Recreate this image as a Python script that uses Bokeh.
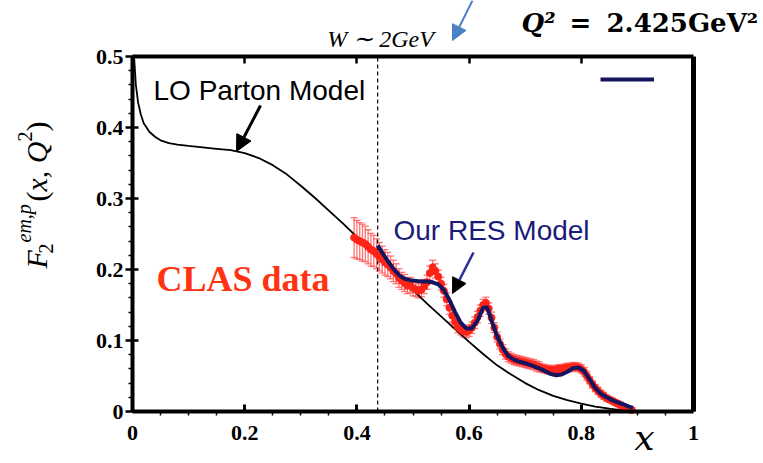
import math
from bokeh.plotting import figure
from bokeh.models import (ColumnDataSource, Whisker, TeeHead, Label, Arrow, NormalHead,
                          FixedTicker, LinearAxis, CustomJSTickFormatter, Legend, LegendItem,
                          Range1d)
from bokeh.embed import file_html
from bokeh.resources import INLINE

# ---------------- data ----------------
LO_X = [0.003, 0.006, 0.01, 0.015, 0.02, 0.03, 0.04, 0.05, 0.065, 0.08, 0.1, 0.125, 0.15,
        0.175, 0.2, 0.225, 0.25, 0.275, 0.3, 0.325, 0.35, 0.375, 0.4, 0.425, 0.45, 0.475, 0.5,
        0.525, 0.55, 0.575, 0.6, 0.625, 0.65, 0.675, 0.7, 0.725, 0.75, 0.775, 0.8, 0.825, 0.85,
        0.87, 0.89]
LO_Y = [0.497, 0.46, 0.435, 0.418, 0.406, 0.394, 0.387, 0.382, 0.378, 0.376, 0.374, 0.372,
        0.370, 0.368, 0.364, 0.357, 0.347, 0.334, 0.318, 0.301, 0.283, 0.265, 0.246, 0.228,
        0.209, 0.19, 0.171, 0.152, 0.134, 0.116, 0.098, 0.081, 0.065, 0.052, 0.04, 0.03, 0.022,
        0.016, 0.011, 0.007, 0.004, 0.002, 0.0]

RES_X = [0.437, 0.445, 0.455, 0.465, 0.475, 0.485, 0.495, 0.505, 0.515, 0.525, 0.535, 0.545,
         0.555, 0.565, 0.575, 0.585, 0.595, 0.605, 0.615, 0.625, 0.632, 0.64, 0.65, 0.66, 0.67,
         0.68, 0.69, 0.70, 0.715, 0.73, 0.745, 0.755, 0.765, 0.775, 0.785, 0.795, 0.805, 0.815,
         0.825, 0.835, 0.845, 0.855, 0.865, 0.875, 0.885, 0.892]
RES_Y = [0.234, 0.224, 0.212, 0.201, 0.192, 0.187, 0.185, 0.184, 0.183, 0.183, 0.182, 0.179,
         0.171, 0.157, 0.14, 0.125, 0.117, 0.117, 0.128, 0.146, 0.147, 0.128, 0.106, 0.09, 0.078,
         0.073, 0.07, 0.068, 0.064, 0.059, 0.053, 0.051, 0.052, 0.056, 0.061, 0.062, 0.057, 0.045,
         0.033, 0.025, 0.02, 0.016, 0.013, 0.01, 0.007, 0.005]

CLAS_X = [0.395, 0.400, 0.405, 0.410, 0.415, 0.420, 0.425, 0.430, 0.435, 0.440, 0.445, 0.450,
          0.455, 0.460, 0.465, 0.470, 0.475, 0.480, 0.485, 0.490, 0.495, 0.500, 0.505, 0.510,
          0.515, 0.520, 0.525, 0.530, 0.535, 0.540, 0.545, 0.550, 0.555, 0.560, 0.565, 0.570,
          0.575, 0.580, 0.585, 0.590, 0.595, 0.600, 0.605, 0.610, 0.615, 0.620, 0.625, 0.630,
          0.635, 0.640, 0.645, 0.650, 0.655, 0.660, 0.665, 0.670, 0.675, 0.680, 0.685, 0.690,
          0.695, 0.700, 0.705, 0.710, 0.715, 0.720, 0.725, 0.730, 0.735, 0.740, 0.745, 0.750,
          0.755, 0.760, 0.765, 0.770, 0.775, 0.780, 0.785, 0.790, 0.795, 0.800, 0.805, 0.810,
          0.815, 0.820, 0.825, 0.830, 0.835, 0.840, 0.845, 0.850, 0.855, 0.860, 0.865, 0.870,
          0.875, 0.880, 0.885, 0.890]
CLAS_Y = [0.245, 0.242, 0.240, 0.238, 0.236, 0.232, 0.228, 0.226, 0.222, 0.218, 0.214, 0.210,
          0.207, 0.203, 0.198, 0.194, 0.188, 0.184, 0.181, 0.177, 0.178, 0.174, 0.172, 0.170,
          0.172, 0.176, 0.182, 0.195, 0.203, 0.198, 0.190, 0.180, 0.170, 0.158, 0.146, 0.135,
          0.126, 0.119, 0.116, 0.113, 0.112, 0.114, 0.118, 0.125, 0.133, 0.142, 0.150, 0.153,
          0.145, 0.132, 0.118, 0.105, 0.095, 0.087, 0.081, 0.077, 0.075, 0.073, 0.072, 0.071,
          0.070, 0.069, 0.068, 0.067, 0.066, 0.064, 0.063, 0.061, 0.060, 0.059, 0.059, 0.058,
          0.059, 0.060, 0.060, 0.061, 0.062, 0.062, 0.063, 0.063, 0.062, 0.060, 0.056, 0.050,
          0.044, 0.038, 0.033, 0.029, 0.025, 0.022, 0.019, 0.017, 0.015, 0.013, 0.011, 0.009,
          0.007, 0.005, 0.003, 0.002]
CLAS_ERR = [0.028, 0.027, 0.026, 0.026, 0.025, 0.024, 0.023, 0.022, 0.021, 0.020, 0.019, 0.018,
            0.017, 0.016, 0.015, 0.014, 0.013, 0.012, 0.012, 0.011, 0.011, 0.011, 0.010, 0.010,
            0.010, 0.010, 0.010, 0.010, 0.010, 0.010, 0.009, 0.009, 0.009, 0.009, 0.009, 0.009,
            0.008, 0.008, 0.008, 0.008, 0.008, 0.008, 0.008, 0.008, 0.008, 0.008, 0.008, 0.008,
            0.008, 0.008, 0.007, 0.007, 0.007, 0.007, 0.007, 0.007, 0.007, 0.007, 0.007, 0.007,
            0.007, 0.007, 0.007, 0.007, 0.007, 0.007, 0.007, 0.006, 0.006, 0.006, 0.006, 0.006,
            0.006, 0.006, 0.006, 0.006, 0.006, 0.006, 0.006, 0.006, 0.006, 0.006, 0.006, 0.006,
            0.005, 0.005, 0.005, 0.005, 0.005, 0.005, 0.004, 0.004, 0.004, 0.004, 0.004, 0.004,
            0.003, 0.003, 0.003, 0.003]

W_LINE_X = [0.437, 0.437]
W_LINE_Y = [0.0, 0.5]

X_TICKS = [0.0, 0.2, 0.4, 0.6, 0.8, 1.0]
X_MINOR = [0.05, 0.1, 0.15, 0.25, 0.3, 0.35, 0.45, 0.5, 0.55, 0.65, 0.7, 0.75, 0.85, 0.9, 0.95]
Y_TICKS = [0.0, 0.1, 0.2, 0.3, 0.4, 0.5]
Y_MINOR = [0.02, 0.04, 0.06, 0.08, 0.12, 0.14, 0.16, 0.18, 0.22, 0.24, 0.26, 0.28,
           0.32, 0.34, 0.36, 0.38, 0.42, 0.44, 0.46, 0.48]
TOP_TICKS = [0.2, 0.4, 0.6, 0.8]
X_BOUNDS = (0.0, 1.0)
Y_BOUNDS = (0.0, 0.5)

# ---------------- layout helpers (page pixels -> data) ----------------
FX0, FX1 = 132.0, 693.0      # page x of x=0 and x=1
FY0, FY1 = 411.0, 56.0       # page y of y=0 and y=0.5
W, H = 760, 462
BASE_SHIFT = 0.36            # Bokeh's baseline offset, as a fraction of font size


def X(px):
    return (px - FX0) / (FX1 - FX0)


def Y(py):
    return 0.5 * (FY0 - py) / (FY0 - FY1)


p = figure(width=W, height=H, x_range=Range1d(X(0), X(W)), y_range=Range1d(Y(H), Y(0)),
           output_backend="svg", toolbar_location=None, title=None,
           min_border=0, min_border_left=0, min_border_right=0, min_border_top=0,
           min_border_bottom=0, background_fill_color="white", border_fill_color="white")
p.grid.visible = False
p.outline_line_color = None

fmt = CustomJSTickFormatter(code="""
if (Math.abs(tick) < 1e-9) return '0';
if (Math.abs(tick - 1) < 1e-9) return '1';
return tick.toFixed(1);
""")
blank = CustomJSTickFormatter(code="return '';")

xa = p.xaxis[0]
xa.fixed_location = 0.0
xa.bounds = X_BOUNDS
xa.ticker = FixedTicker(ticks=X_TICKS, minor_ticks=X_MINOR)
xa.formatter = fmt
xa.axis_line_width = 4
xa.major_tick_in = 7
xa.major_tick_out = 0
xa.major_tick_line_width = 3
xa.minor_tick_in = 0
xa.minor_tick_out = 4
xa.minor_tick_line_width = 1.5
xa.major_label_standoff = 10
xa.major_label_text_font = "Liberation Serif"
xa.major_label_text_font_style = "bold"
xa.major_label_text_font_size = "22px"
xa.major_label_text_color = "black"

ya = p.yaxis[0]
ya.fixed_location = 0.0
ya.bounds = Y_BOUNDS
ya.ticker = FixedTicker(ticks=Y_TICKS, minor_ticks=Y_MINOR)
ya.formatter = fmt
ya.axis_line_width = 4
ya.major_tick_in = 6
ya.major_tick_out = 7
ya.major_tick_line_width = 2.5
ya.minor_tick_in = 0
ya.minor_tick_out = 4
ya.minor_tick_line_width = 1.5
ya.major_label_standoff = 2
ya.major_label_text_font = "Liberation Serif"
ya.major_label_text_font_style = "bold"
ya.major_label_text_font_size = "22px"
ya.major_label_text_color = "black"

top = LinearAxis(fixed_location=0.5, bounds=X_BOUNDS,
                 ticker=FixedTicker(ticks=TOP_TICKS, minor_ticks=[]), formatter=blank,
                 axis_line_width=4, major_tick_in=7, major_tick_out=0,
                 major_tick_line_width=2.5, minor_tick_line_color=None,
                 major_label_standoff=0, major_label_text_font_size="1px")
p.add_layout(top, "above")
right = LinearAxis(fixed_location=1.0, bounds=Y_BOUNDS,
                   ticker=FixedTicker(ticks=[], minor_ticks=[]), formatter=blank,
                   axis_line_width=5, major_tick_line_color=None, minor_tick_line_color=None,
                   major_label_standoff=0, major_label_text_font_size="1px")
p.add_layout(right, "right")

# ---------------- marks ----------------
p.line(W_LINE_X, W_LINE_Y, line_color="black", line_width=1.2, line_dash="4 3")
p.line(LO_X, LO_Y, line_color="black", line_width=1.8)

src = ColumnDataSource(dict(x=CLAS_X, y=CLAS_Y,
                            lo=[a - e for a, e in zip(CLAS_Y, CLAS_ERR)],
                            hi=[a + e for a, e in zip(CLAS_Y, CLAS_ERR)]))
red_err = "#ff5a5a"
wh = Whisker(source=src, base="x", lower="lo", upper="hi", dimension="height",
             line_color=red_err, line_width=1.3, line_alpha=0.85,
             lower_head=TeeHead(size=7, line_color=red_err, line_width=1.3, line_alpha=0.85),
             upper_head=TeeHead(size=7, line_color=red_err, line_width=1.3, line_alpha=0.85))
p.add_layout(wh)
p.scatter("x", "y", source=src, size=7, fill_color="#ff2418", line_color="#ff2418")

res = p.line(RES_X, RES_Y, line_color="#15155f", line_width=4)

leg = Legend(items=[LegendItem(label=" ", renderers=[res])],
             location=(600, H - 79 - 5), glyph_width=54, glyph_height=10,
             label_height=10, label_width=0, label_standoff=0, padding=0, margin=0,
             spacing=0, label_text_font_size="1px",
             background_fill_alpha=0, border_line_alpha=0)
p.add_layout(leg, "center")

# ---------------- annotations ----------------
def lab(px, py, text, size, font="Liberation Serif", style="normal", color="black",
        align="left", rotated=False):
    """px, py: wanted page position of the text's baseline start."""
    if rotated:
        px = px - BASE_SHIFT * size
        angle = math.pi / 2
    else:
        py = py - BASE_SHIFT * size
        angle = 0.0
    p.add_layout(Label(x=X(px), y=Y(py), text=text, text_font=font, text_font_style=style,
                       text_font_size=f"{size}px", text_color=color, text_align=align,
                       text_baseline="alphabetic", angle=angle))


lab(153, 100, "LO Parton Model", 28, font="Liberation Sans")
lab(393, 240, "Our RES Model", 28, font="Liberation Sans", color="#1b1b7a")
lab(156, 291, "CLAS data", 36, style="bold", color="#ff3311")
lab(380, 47, "W ∼ 2GeV", 24, style="italic", align="center")
lab(521, 32, "Q²", 26, font="DejaVu Serif", style="bold italic")
lab(580, 32, "=", 26, font="DejaVu Serif", style="bold", align="center")
lab(606, 32, "2.425GeV²", 26, font="DejaVu Serif", style="bold")
lab(644, 450, "x", 36, font="DejaVu Serif", style="italic", align="center")

lab(47, 268, "F", 30, style="italic", rotated=True)
lab(53, 253, "2", 20, rotated=True)
lab(31, 242, "em,p", 20, style="italic", rotated=True)
lab(47, 201, "(", 30, rotated=True)
lab(47, 191, "x, Q", 30, style="italic", rotated=True)
lab(32, 141, "2", 20, rotated=True)
lab(47, 131, ")", 30, rotated=True)

p.add_layout(Arrow(end=NormalHead(size=16, fill_color="black", line_color="black"),
                   x_start=X(260), y_start=Y(105), x_end=X(236), y_end=Y(151),
                   line_color="black", line_width=3))
p.add_layout(Arrow(end=NormalHead(size=15, fill_color="black", line_color="black"),
                   x_start=X(473), y_start=Y(252), x_end=X(452), y_end=Y(293),
                   line_color="#2e2e9a", line_width=2.5))
p.add_layout(Arrow(end=NormalHead(size=15, fill_color="#4a80c4", line_color="#4a80c4"),
                   x_start=X(472), y_start=Y(0), x_end=X(452), y_end=Y(40),
                   line_color="#4a80c4", line_width=2))

open("out.html", "w").write(file_html(p, INLINE))
